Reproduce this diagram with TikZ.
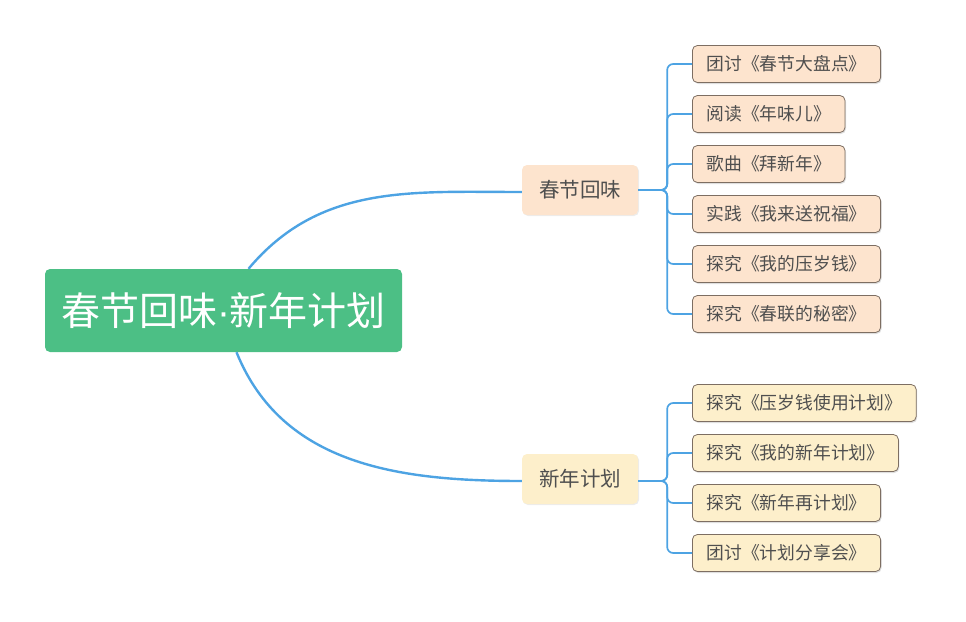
\documentclass[tikz,border=0pt]{standalone}
\usepackage{fontspec}
\setmainfont{Noto Sans CJK SC}
\newfontfamily\dotfont{Liberation Sans}
\usetikzlibrary{shadows}

\definecolor{rootgreen}{HTML}{4CBF85}
\definecolor{linkblue}{HTML}{4DA3E3}
\definecolor{springfill}{HTML}{FDE4CE}
\definecolor{planfill}{HTML}{FDEFCB}
\definecolor{boxline}{HTML}{7D6E62}
\definecolor{textgray}{HTML}{4F4F4F}

\begin{document}
\begin{tikzpicture}[x=1pt, y=1pt,
    rootbox/.style={fill=rootgreen, rounded corners=5pt, text=white,
        font=\fontsize{39}{42}\selectfont, minimum width=357pt, minimum height=83pt},
    branchbox/.style={rounded corners=5pt, text=textgray,
        font=\fontsize{20.5}{22}\selectfont, minimum width=116pt, minimum height=50pt,
        drop shadow={opacity=0.15, shadow xshift=1pt, shadow yshift=-1pt}},
    leafbox/.style={draw=boxline, line width=0.8pt, rounded corners=5pt, text=textgray,
        font=\fontsize{17.8}{19}\selectfont, anchor=west, inner xsep=14pt, minimum height=37pt,
        drop shadow={opacity=0.25, shadow xshift=1pt, shadow yshift=-1.5pt}},
    bigline/.style={draw=linkblue, line width=2.4pt},
    smallline/.style={draw=linkblue, line width=1.7pt, rounded corners=6pt}]
    \useasboundingbox (0,0) rectangle (966,-621);

    % centre and the two branches
    \node[rootbox] (root) at (223.5,-310.5) {春节回味{\dotfont ·}新年计划};
    \node[branchbox, fill=springfill] (spring) at (580,-190) {春节回味};
    \node[branchbox, fill=planfill] (plan) at (580,-479) {新年计划};

    \draw[bigline] ([xshift=25pt]root.north) to[out=50, in=180] ([yshift=-2pt]spring.west);
    \draw[bigline] ([xshift=13pt]root.south) to[out=-68, in=180] ([yshift=-2pt]plan.west);

    % leaves of the first branch
    \foreach \name/\ypos/\txt in {sa/64/团讨《春节大盘点》, sb/114/阅读《年味儿》,
        sc/164/歌曲《拜新年》, sd/214/实践《我来送祝福》,
        se/264/探究《我的压岁钱》, sf/314/探究《春联的秘密》}{
        \node[leafbox, fill=springfill] (\name) at (692,-\ypos) {\txt};
        \draw[smallline] (spring.east) -- ++(29,0) |- (\name.west);
    }

    % leaves of the second branch
    \foreach \name/\ypos/\txt in {pa/403/探究《压岁钱使用计划》, pb/453/探究《我的新年计划》,
        pc/503/探究《新年再计划》, pd/553/团讨《计划分享会》}{
        \node[leafbox, fill=planfill] (\name) at (692,-\ypos) {\txt};
        \draw[smallline] ([yshift=-2pt]plan.east) -- ++(29,0) |- (\name.west);
    }
\end{tikzpicture}
\end{document}
